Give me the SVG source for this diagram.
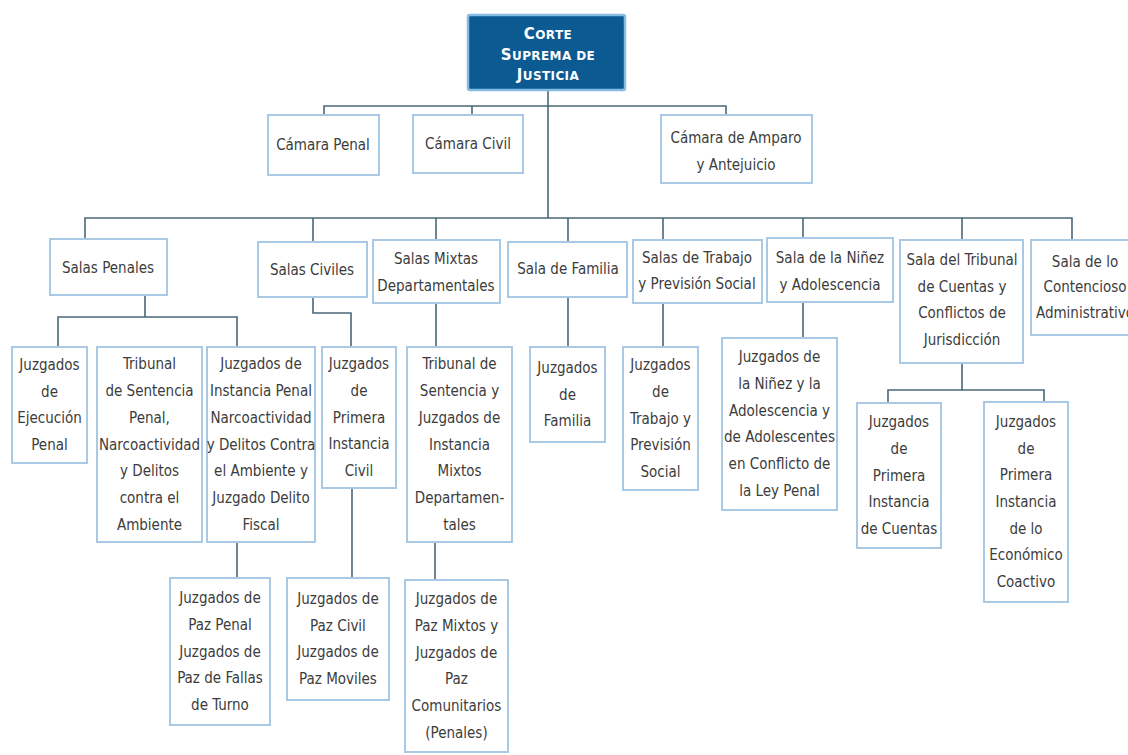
<svg xmlns="http://www.w3.org/2000/svg" width="1128" height="755" viewBox="0 0 1128 755">
<style>
.b{fill:#ffffff;stroke:#a9c9e4;stroke-width:2}
.top{fill:#0b5a92;stroke:#86bbe3;stroke-width:2.5}
.t{font-family:'DejaVu Sans Condensed','DejaVu Sans',sans-serif;font-stretch:condensed;font-size:15px;fill:#3c3c3c;text-anchor:middle}
.h{font-family:'DejaVu Sans',sans-serif;font-weight:bold;fill:#ffffff;text-anchor:middle;letter-spacing:0.4px}
.c{fill:none;stroke:#4a6878;stroke-width:1.6}
</style>
<rect width="1128" height="755" fill="#ffffff"/>
<g id="connectors">
<path class="c" d="M548 90V218"/>
<path class="c" d="M324 115V106H726V115M472 106V115"/>
<path class="c" d="M85 239V218H1072V240M313 218V242M436 218V240M568 218V242M663 218V240M803 218V238M962 218V240"/>
<path class="c" d="M145 295V317M58 347V317H237V347"/>
<path class="c" d="M313 297V313H351V347"/>
<path class="c" d="M436 303V347M568 297V347M663 303V347M803 302V338"/>
<path class="c" d="M962 363V390M888 403V390H1044V402"/>
<path class="c" d="M237 542V578M352 488V578M435 542V580"/>
</g>
<g id="corte"><rect class="top" x="468" y="15" width="157" height="75" rx="2"/>
<text class="h"><tspan x="548" y="39" font-size="15">C<tspan font-size="12">ORTE</tspan></tspan></text>
<text class="h"><tspan x="548" y="60" font-size="15">S<tspan font-size="12">UPREMA DE</tspan></tspan></text>
<text class="h"><tspan x="548" y="80" font-size="15">J<tspan font-size="12">USTICIA</tspan></tspan></text>
</g>
<g id="camara-penal"><rect class="b" x="268" y="115" width="111" height="60"/><text class="t" x="323" y="150">Cámara Penal</text></g>
<g id="camara-civil"><rect class="b" x="413" y="115" width="110" height="58"/><text class="t" x="468" y="149">Cámara Civil</text></g>
<g id="camara-amparo"><rect class="b" x="661" y="115" width="151" height="68"/><text class="t"><tspan x="736" y="143">Cámara de Amparo</tspan><tspan x="736" y="170">y Antejuicio</tspan></text></g>
<g id="salas-penales"><rect class="b" x="50" y="239" width="117" height="56"/><text class="t" x="108" y="273">Salas Penales</text></g>
<g id="salas-civiles"><rect class="b" x="258" y="242" width="109" height="55"/><text class="t" x="312" y="275">Salas Civiles</text></g>
<g id="salas-mixtas"><rect class="b" x="373" y="240" width="127" height="63"/><text class="t"><tspan x="436" y="264">Salas Mixtas</tspan><tspan x="436" y="291">Departamentales</tspan></text></g>
<g id="sala-familia"><rect class="b" x="508" y="242" width="119" height="55"/><text class="t" x="568" y="274">Sala de Familia</text></g>
<g id="salas-trabajo"><rect class="b" x="633" y="240" width="129" height="63"/><text class="t"><tspan x="697" y="263">Salas de Trabajo</tspan><tspan x="697" y="289">y Previsión Social</tspan></text></g>
<g id="sala-ninez"><rect class="b" x="767" y="238" width="126" height="64"/><text class="t"><tspan x="830" y="263">Sala de la Niñez</tspan><tspan x="830" y="290">y Adolescencia</tspan></text></g>
<g id="sala-tribunal"><rect class="b" x="900" y="240" width="123" height="123"/><text class="t"><tspan x="962" y="265">Sala del Tribunal</tspan><tspan x="962" y="292">de Cuentas y</tspan><tspan x="962" y="318">Conflictos de</tspan><tspan x="962" y="345">Jurisdicción</tspan></text></g>
<g id="sala-contencioso"><rect class="b" x="1031" y="240" width="110" height="95"/><text class="t"><tspan x="1085" y="267">Sala de lo</tspan><tspan x="1085" y="292">Contencioso</tspan><tspan x="1085" y="318">Administrativo</tspan></text></g>
<g id="juz-ejecucion"><rect class="b" x="12" y="347" width="75" height="116"/><text class="t"><tspan x="49.5" y="370">Juzgados</tspan><tspan x="49.5" y="396.7">de</tspan><tspan x="49.5" y="423.4">Ejecución</tspan><tspan x="49.5" y="450.1">Penal</tspan></text></g>
<g id="trib-sentencia-penal"><rect class="b" x="97" y="347" width="105" height="195"/><text class="t"><tspan x="149.5" y="369.4">Tribunal</tspan><tspan x="149.5" y="396.1">de Sentencia</tspan><tspan x="149.5" y="422.8">Penal,</tspan><tspan x="149.5" y="449.5">Narcoactividad</tspan><tspan x="149.5" y="476.2">y Delitos</tspan><tspan x="149.5" y="502.9">contra el</tspan><tspan x="149.5" y="529.6">Ambiente</tspan></text></g>
<g id="juz-instancia-penal"><rect class="b" x="207" y="347" width="108" height="195"/><text class="t"><tspan x="261" y="369.4">Juzgados de</tspan><tspan x="261" y="396.1">Instancia Penal</tspan><tspan x="261" y="422.8">Narcoactividad</tspan><tspan x="261" y="449.5">y Delitos Contra</tspan><tspan x="261" y="476.2">el Ambiente y</tspan><tspan x="261" y="502.9">Juzgado Delito</tspan><tspan x="261" y="529.6">Fiscal</tspan></text></g>
<g id="juz-primera-civil"><rect class="b" x="322" y="347" width="74" height="141"/><text class="t"><tspan x="359" y="369.1">Juzgados</tspan><tspan x="359" y="395.8">de</tspan><tspan x="359" y="422.5">Primera</tspan><tspan x="359" y="449.2">Instancia</tspan><tspan x="359" y="475.9">Civil</tspan></text></g>
<g id="trib-mixtos"><rect class="b" x="407" y="347" width="105" height="195"/><text class="t"><tspan x="459.5" y="369.4">Tribunal de</tspan><tspan x="459.5" y="396.1">Sentencia y</tspan><tspan x="459.5" y="422.8">Juzgados de</tspan><tspan x="459.5" y="449.5">Instancia</tspan><tspan x="459.5" y="476.2">Mixtos</tspan><tspan x="459.5" y="502.9">Departamen-</tspan><tspan x="459.5" y="529.6">tales</tspan></text></g>
<g id="juz-familia"><rect class="b" x="530" y="347" width="75" height="95"/><text class="t"><tspan x="567.5" y="372.8">Juzgados</tspan><tspan x="567.5" y="399.5">de</tspan><tspan x="567.5" y="426.2">Familia</tspan></text></g>
<g id="juz-trabajo"><rect class="b" x="623" y="347" width="75" height="143"/><text class="t"><tspan x="660.5" y="370.1">Juzgados</tspan><tspan x="660.5" y="396.8">de</tspan><tspan x="660.5" y="423.5">Trabajo y</tspan><tspan x="660.5" y="450.2">Previsión</tspan><tspan x="660.5" y="476.9">Social</tspan></text></g>
<g id="juz-ninez"><rect class="b" x="722" y="338" width="115" height="172"/><text class="t"><tspan x="779.5" y="362.3">Juzgados de</tspan><tspan x="779.5" y="389">la Niñez y la</tspan><tspan x="779.5" y="415.7">Adolescencia y</tspan><tspan x="779.5" y="442.4">de Adolescentes</tspan><tspan x="779.5" y="469.1">en Conflicto de</tspan><tspan x="779.5" y="495.8">la Ley Penal</tspan></text></g>
<g id="juz-cuentas"><rect class="b" x="857" y="403" width="84" height="145"/><text class="t"><tspan x="899" y="427.1">Juzgados</tspan><tspan x="899" y="453.8">de</tspan><tspan x="899" y="480.5">Primera</tspan><tspan x="899" y="507.2">Instancia</tspan><tspan x="899" y="533.9">de Cuentas</tspan></text></g>
<g id="juz-economico"><rect class="b" x="984" y="402" width="84" height="200"/><text class="t"><tspan x="1026" y="426.9">Juzgados</tspan><tspan x="1026" y="453.6">de</tspan><tspan x="1026" y="480.3">Primera</tspan><tspan x="1026" y="507">Instancia</tspan><tspan x="1026" y="533.7">de lo</tspan><tspan x="1026" y="560.4">Económico</tspan><tspan x="1026" y="587.1">Coactivo</tspan></text></g>
<g id="paz-penal"><rect class="b" x="170" y="578" width="100" height="147"/><text class="t"><tspan x="220" y="603.1">Juzgados de</tspan><tspan x="220" y="629.8">Paz Penal</tspan><tspan x="220" y="656.5">Juzgados de</tspan><tspan x="220" y="683.2">Paz de Fallas</tspan><tspan x="220" y="709.9">de Turno</tspan></text></g>
<g id="paz-civil"><rect class="b" x="287" y="578" width="102" height="122"/><text class="t"><tspan x="338" y="604">Juzgados de</tspan><tspan x="338" y="630.7">Paz Civil</tspan><tspan x="338" y="657.4">Juzgados de</tspan><tspan x="338" y="684.1">Paz Moviles</tspan></text></g>
<g id="paz-mixtos"><rect class="b" x="405" y="580" width="103" height="172"/><text class="t"><tspan x="456.5" y="604.3">Juzgados de</tspan><tspan x="456.5" y="631">Paz Mixtos y</tspan><tspan x="456.5" y="657.7">Juzgados de</tspan><tspan x="456.5" y="684.4">Paz</tspan><tspan x="456.5" y="711.1">Comunitarios</tspan><tspan x="456.5" y="737.8">(Penales)</tspan></text></g>
</svg>
